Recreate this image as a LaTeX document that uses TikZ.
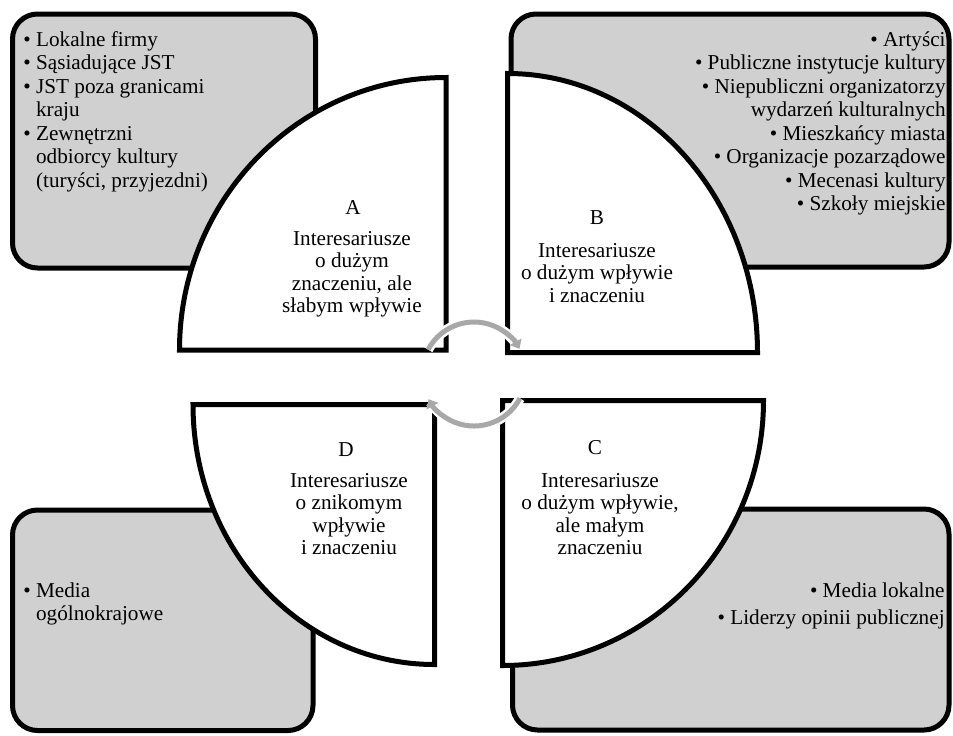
\documentclass[tikz,border=0pt]{standalone}
\usepackage{fontspec}
\setmainfont{Liberation Serif}
\usetikzlibrary{arrows.meta}
\definecolor{boxgray}{HTML}{D0D0D0}
\definecolor{arrowgray}{HTML}{A8A8A8}

\begin{document}
\begin{tikzpicture}[x=0.5pt,y=0.5pt,
    group/.style={draw=black, line width=2.5pt, fill=boxgray, rounded corners=12.5pt},
    quarter/.style={draw=black, line width=2.5pt, fill=white, line join=miter},
    listtext/.style={inner sep=0pt, font=\fontsize{10.6}{11.75}\selectfont},
    qtitle/.style={inner sep=0pt, font=\fontsize{10.6}{11.2}\selectfont},
    qtext/.style={inner sep=0pt, align=center, anchor=north, font=\fontsize{10.6}{11.2}\selectfont},
    halo/.style={draw=white, line width=5pt},
    cycarrow/.style={draw=arrowgray, line width=2.5pt, -{Triangle[length=4pt,width=6.5pt]}}]
    \useasboundingbox (0,0) rectangle (953,-735);

    % Grey groups
    \draw[group] (12.5,-14) rectangle (315.5,-268);%
    \draw[group] (511,-14) rectangle (949,-267);%
    \draw[group] (12.5,-510) rectangle (313,-730.5);%
    \draw[group] (512.5,-509) rectangle (949,-730);%

    % Quarters
    \draw[quarter] (446,-350) -- (179.5,-350) arc[start angle=180, end angle=90, x radius=266.5, y radius=272.5] -- cycle;% A
    \draw[quarter] (507.5,-352.5) -- (507.5,-73.5) arc[start angle=90, end angle=0, x radius=250, y radius=279] -- cycle;% B
    \draw[quarter] (502.5,-400.5) -- (763.5,-400.5) arc[start angle=0, end angle=-90, x radius=261, y radius=265] -- cycle;% C
    \draw[quarter] (434.5,-404.5) -- (434.5,-664.5) arc[start angle=270, end angle=180, x radius=241.5, y radius=260] -- cycle;% D

    % Cycle arrows
    \coordinate (hub) at (474,-374);
    \draw[halo] (hub) ++(152:52) arc[start angle=152, end angle=33, radius=52];%
    \draw[halo] (hub) ++(-28:52) arc[start angle=-28, end angle=-147, radius=52];%
    \draw[cycarrow] (hub) ++(152:52) arc[start angle=152, end angle=29, radius=52];%
    \draw[cycarrow] (hub) ++(-28:52) arc[start angle=-28, end angle=-151, radius=52];%

    % Quarter labels
    \node[qtitle] (titleA) at (353,-207) {A};%
    \node[qtext] (textA) at (352,-231) {Interesariusze\\o dużym\\znaczeniu, ale\\słabym wpływie};%
    \node[qtitle] (titleB) at (597,-218) {B};%
    \node[qtext] (textB) at (597,-243) {Interesariusze\\o dużym wpływie\\i znaczeniu};%
    \node[qtitle] (titleC) at (595,-448) {C};%
    \node[qtext] (textC) at (600,-473) {Interesariusze\\o dużym wpływie,\\ale małym\\znaczeniu};%
    \node[qtitle] (titleD) at (346,-450) {D};%
    \node[qtext] (textD) at (349,-473) {Interesariusze\\o znikomym\\wpływie\\i znaczeniu};%

    % Lists
    \node[listtext, anchor=north west, align=left] (listA) at (23,-31)
        {\textbullet\ Lokalne firmy\\
         \textbullet\ Sąsiadujące JST\\
         \textbullet\ JST poza granicami\\
         \hphantom{\textbullet\ }kraju\\
         \textbullet\ Zewnętrzni\\
         \hphantom{\textbullet\ }odbiorcy kultury\\
         \hphantom{\textbullet\ }(turyści, przyjezdni)};%
    \node[listtext, anchor=north east, align=right] (listB) at (946,-31)
        {\textbullet\ Artyści\\
         \textbullet\ Publiczne instytucje kultury\\
         \textbullet\ Niepubliczni organizatorzy\\
         wydarzeń kulturalnych\\
         \textbullet\ Mieszkańcy miasta\\
         \textbullet\ Organizacje pozarządowe\\
         \textbullet\ Mecenasi kultury\\
         \textbullet\ Szkoły miejskie};%
    \node[listtext, anchor=north east, align=right] (listC) at (945,-582)
        {\textbullet\ Media lokalne\\[1.75pt]
         \textbullet\ Liderzy opinii publicznej};%
    \node[listtext, anchor=north west, align=left] (listD) at (23,-582)
        {\textbullet\ Media\\
         \hphantom{\textbullet\ }ogólnokrajowe};%
\end{tikzpicture}
\end{document}
